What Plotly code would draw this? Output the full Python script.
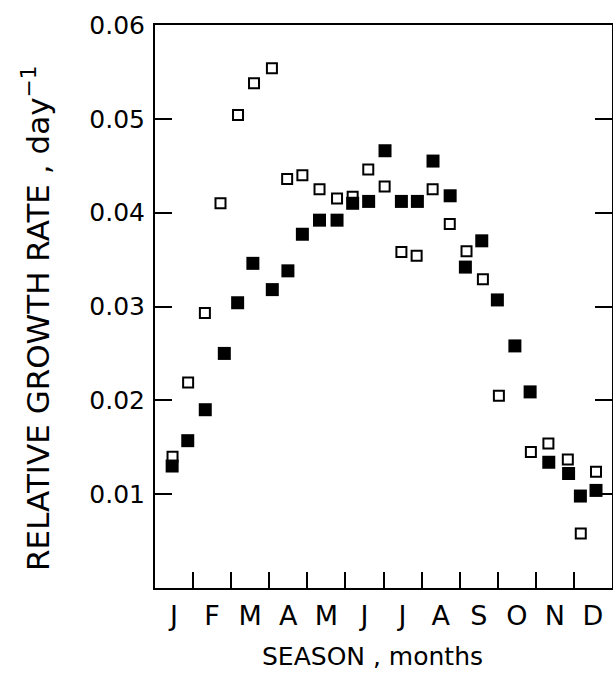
import plotly.graph_objects as go

months = ["J", "F", "M", "A", "M", "J", "J", "A", "S", "O", "N", "D"]
month_centers = [0.5, 1.5, 2.5, 3.5, 4.5, 5.5, 6.5, 7.5, 8.5, 9.5, 10.5, 11.5]
month_bounds = [1, 2, 3, 4, 5, 6, 7, 8, 9, 10, 11]

open_x = [0.46, 0.87, 1.31, 1.72, 2.18, 2.60, 3.07, 3.47, 3.87, 4.32, 4.78, 5.19, 5.60,
          6.03, 6.47, 6.87, 7.29, 7.74, 8.18, 8.61, 9.03, 9.87, 10.33, 10.84, 11.18, 11.58]
open_y = [0.0140, 0.0219, 0.0293, 0.0410, 0.0504, 0.0538, 0.0554, 0.0436, 0.0440, 0.0425,
          0.0415, 0.0417, 0.0446, 0.0428, 0.0358, 0.0354, 0.0425, 0.0388, 0.0359, 0.0329,
          0.0205, 0.0145, 0.0154, 0.0137, 0.0058, 0.0124]

filled_x = [0.45, 0.86, 1.32, 1.82, 2.17, 2.57, 3.08, 3.49, 3.87, 4.32, 4.78, 5.19, 5.61,
            6.04, 6.47, 6.89, 7.30, 7.75, 8.15, 8.58, 8.99, 9.45, 9.85, 10.34, 10.86, 11.17, 11.58]
filled_y = [0.0130, 0.0157, 0.0190, 0.0250, 0.0304, 0.0346, 0.0318, 0.0338, 0.0377, 0.0392,
            0.0392, 0.0410, 0.0412, 0.0466, 0.0412, 0.0412, 0.0455, 0.0418, 0.0342, 0.0370,
            0.0307, 0.0258, 0.0209, 0.0134, 0.0122, 0.0098, 0.0104]

y_ticks = [0.01, 0.02, 0.03, 0.04, 0.05, 0.06]
y_ticktext = ["0.01", "0.02", "0.03", "0.04", "0.05", "0.06"]

FONT = "DejaVu Sans"

fig = go.Figure()
fig.add_trace(go.Scatter(
    x=open_x, y=open_y, mode="markers",
    marker=dict(symbol="square-open", size=10, color="black", line=dict(width=2, color="black")),
    showlegend=False, cliponaxis=False))
fig.add_trace(go.Scatter(
    x=filled_x, y=filled_y, mode="markers",
    marker=dict(symbol="square", size=13, color="black", line=dict(width=0)),
    showlegend=False, cliponaxis=False))

fig.update_layout(
    width=613, height=673,
    margin=dict(l=155, r=1, t=25, b=85, autoexpand=False),
    paper_bgcolor="white", plot_bgcolor="white",
    font=dict(family=FONT, color="black"),
    xaxis=dict(
        range=[0, 12], showgrid=False, zeroline=False, automargin=False,
        showline=True, linecolor="black", linewidth=2, mirror=True,
        tickmode="array", tickvals=month_centers, ticktext=months, ticks="",
        tickfont=dict(family=FONT, size=27, color="black"),
        ticklabelstandoff=3,
        minor=dict(tickmode="array", tickvals=month_bounds, ticks="inside",
                   ticklen=16, tickwidth=2, tickcolor="black", showgrid=False),
    ),
    yaxis=dict(
        range=[0, 0.06], showgrid=False, zeroline=False, automargin=False,
        showline=True, linecolor="black", linewidth=2, mirror="ticks",
        tickmode="array", tickvals=y_ticks, ticktext=y_ticktext,
        ticks="inside", ticklen=17, tickwidth=2, tickcolor="black",
        tickfont=dict(family=FONT, size=25, color="black"),
        ticklabelstandoff=3,
    ),
    annotations=[
        dict(text="SEASON , months", xref="paper", yref="paper",
             x=(372 - 155) / 457, y=(588 - 656) / 563, xanchor="center", yanchor="middle",
             showarrow=False, borderpad=0, font=dict(family=FONT, size=25, color="black")),
        dict(text="RELATIVE GROWTH RATE , day<sup>−1</sup>", xref="paper", yref="paper",
             x=(36 - 155) / 457, y=(588 - 318) / 563, xanchor="center", yanchor="middle",
             textangle=-90, showarrow=False, font=dict(family=FONT, size=31, color="black")),
    ],
)

fig.write_html(
    "out.html",
    config={"displayModeBar": False},
    post_script="document.body.style.margin='0';document.body.style.overflow='hidden';",
)
